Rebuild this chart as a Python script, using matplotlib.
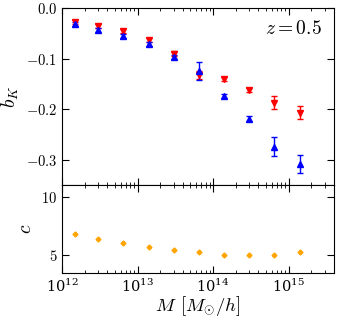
import numpy as np
import matplotlib
matplotlib.use("Agg")
import matplotlib.pyplot as plt
from matplotlib.ticker import FuncFormatter, LogLocator

plt.rcParams["mathtext.fontset"] = "cm"
plt.rcParams["font.family"] = "serif"
plt.rcParams["font.serif"] = ["DejaVu Serif"]

masa = [1.5e12, 3.0e12, 6.5e12, 1.4e13, 3.0e13, 6.5e13, 1.4e14, 3.0e14, 6.5e14, 1.4e15]

bK_rojo = [-0.028, -0.036, -0.045, -0.064, -0.090, -0.132, -0.141, -0.163, -0.187, -0.207]
err_rojo = [0.004, 0.004, 0.004, 0.004, 0.004, 0.008, 0.004, 0.004, 0.013, 0.013]

bK_azul = [-0.032, -0.043, -0.056, -0.072, -0.097, -0.125, -0.174, -0.219, -0.274, -0.309]
err_azul = [0.004, 0.004, 0.004, 0.004, 0.004, 0.018, 0.004, 0.005, 0.019, 0.018]

conc = [6.81, 6.44, 6.10, 5.76, 5.48, 5.29, 5.03, 5.03, 5.06, 5.27]
err_conc = [0.08, 0.08, 0.08, 0.08, 0.08, 0.08, 0.08, 0.08, 0.08, 0.08]

fig = plt.figure(figsize=(3.37, 3.19), dpi=100)
ax1 = fig.add_axes([0.184, 0.42, 0.807, 0.555])
ax2 = fig.add_axes([0.184, 0.144, 0.807, 0.276], sharex=ax1)

ax1.errorbar(masa, bK_rojo, yerr=err_rojo, fmt="v", color="red", ms=5, capsize=2, elinewidth=1)
ax1.errorbar(masa, bK_azul, yerr=err_azul, fmt="^", color="blue", ms=5, capsize=2, elinewidth=1)
ax2.errorbar(masa, conc, yerr=err_conc, fmt="D", color="orange", ms=2.5, capsize=1, elinewidth=1)

ax1.set_xscale("log")
ax1.set_xlim(1e12, 4e15)
ax1.set_ylim(-0.35, 0.0)
ax2.set_ylim(3.5, 11)
ax1.set_yticks([0.0, -0.1, -0.2, -0.3])
ax2.set_yticks([5, 10])

fmt1 = FuncFormatter(lambda v, p: "$%.1f$" % v if abs(v) > 1e-9 else "$0.0$")
ax1.yaxis.set_major_formatter(fmt1)
ax2.yaxis.set_major_formatter(FuncFormatter(lambda v, p: "$%d$" % v))
ax2.xaxis.set_major_locator(LogLocator(base=10))
ax2.xaxis.set_minor_locator(LogLocator(base=10, subs=np.arange(2, 10)))

for ax in (ax1, ax2):
    ax.tick_params(which="both", direction="in", top=True, right=True, labelsize=10.5)
    ax.tick_params(which="major", length=5)
    ax.tick_params(which="minor", length=2.5)
plt.setp(ax1.get_xticklabels(), visible=False)

ax1.set_ylabel("$b_K$", fontsize=14)
ax2.set_ylabel("$c$", fontsize=14)
ax2.set_xlabel(r"$M\;\,[M_{\odot}/h]$", fontsize=13.5)
ax1.yaxis.set_label_coords(-0.15, 0.5)
ax2.yaxis.set_label_coords(-0.10, 0.5)
ax2.xaxis.set_label_coords(0.5, -0.24)
ax1.text(0.955, 0.93, "$z = 0.5$", transform=ax1.transAxes, ha="right", va="top", fontsize=14)

fig.savefig("out.png", dpi=100)
